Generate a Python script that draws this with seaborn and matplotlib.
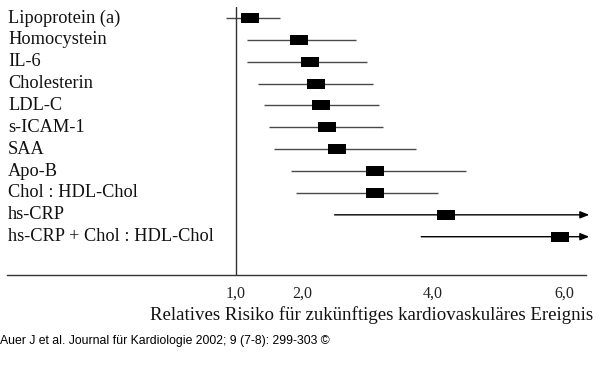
import matplotlib
matplotlib.use("Agg")
import matplotlib.pyplot as plt
import matplotlib.transforms as mtransforms
import seaborn as sns
import pandas as pd

# Marker und Konfidenzintervalle (relatives Risiko), von oben nach unten
MARKERS = [
    "Lipoprotein (a)",
    "Homocystein",
    "IL-6",
    "Cholesterin",
    "LDL-C",
    "s-ICAM-1",
    "SAA",
    "Apo-B",
    "Chol : HDL-Chol",
    "hs-CRP",
    "hs-CRP + Chol : HDL-Chol",
]
RR = [1.21, 1.96, 2.13, 2.21, 2.29, 2.38, 2.54, 3.12, 3.12, 4.20, 5.94]
CI_LOW = [0.84, 1.17, 1.17, 1.34, 1.42, 1.50, 1.58, 1.83, 1.91, 2.50, 3.82]
CI_HIGH = [1.67, 2.83, 2.99, 3.08, 3.17, 3.24, 3.74, 4.50, 4.08, 6.38, 6.38]
OPEN_ENDED = [False] * 9 + [True, True]  # Intervall reicht ueber die Skala hinaus

TICKS = [1.0, 2.0, 4.0, 6.0]
TICK_LABELS = ["1,0", "2,0", "4,0", "6,0"]
XLABEL = "Relatives Risiko für zukünftiges kardiovaskuläres Ereignis"
SOURCE = "Auer J et al. Journal für Kardiologie 2002; 9 (7-8): 299-303 ©"


def main() -> None:
    sns.set_theme(style="white")
    plt.rcParams["font.family"] = ["Liberation Serif", "DejaVu Serif"]

    df = pd.DataFrame(
        {
            "marker": MARKERS,
            "rr": RR,
            "low": CI_LOW,
            "high": CI_HIGH,
            "open": OPEN_ENDED,
        }
    )
    df["row"] = range(len(df))

    fig = plt.figure(figsize=(6, 3.9), dpi=100)
    ax = fig.add_axes([7 / 600, 1 - 275 / 390, 579 / 600, 268 / 390])

    line_color = "#4a4a4a"
    closed = df[~df["open"]]
    ax.hlines(closed["row"], closed["low"], closed["high"], color=line_color, lw=1)
    for row in df[df["open"]].itertuples():
        ax.annotate(
            "",
            xy=(row.high, row.row),
            xytext=(row.low, row.row),
            arrowprops=dict(arrowstyle="-|>,head_length=0.45,head_width=0.18",
                            color="black", lw=1, shrinkA=0, shrinkB=0),
            annotation_clip=False,
        )

    box = [(-1.55, -1), (1.55, -1), (1.55, 1), (-1.55, 1)]
    sns.scatterplot(data=df, x="rr", y="row", marker=box, s=150,
                    color="black", linewidth=0, ax=ax, zorder=3, legend=False)

    ax.axvline(1.0, color="#333333", lw=1)

    trans = mtransforms.blended_transform_factory(fig.transFigure, ax.transData)
    for row in df.itertuples():
        ax.text(8 / 600, row.row, row.marker, transform=trans,
                ha="left", va="center", fontsize=13.2, color="#111111")

    ax.set_xlim(-2.49, 6.33)
    ax.set_ylim(11.75, -0.5)
    ax.set_xticks(TICKS)
    ax.set_xticklabels(TICK_LABELS, fontsize=11.5, color="#222222")
    ax.set_yticks([])
    ax.tick_params(axis="x", length=0, pad=8)
    for side in ["top", "left", "right"]:
        ax.spines[side].set_visible(False)
    ax.spines["bottom"].set_color("#333333")
    ax.spines["bottom"].set_linewidth(1)
    ax.set_xlabel("")
    ax.set_ylabel("")

    fig.text(593 / 600, 1 - 315 / 390, XLABEL, ha="right", va="center",
             fontsize=13.6, color="#111111")
    fig.text(0.0, 1 - 341 / 390, SOURCE, ha="left", va="center",
             fontsize=8.8, color="black", family=["Liberation Sans", "DejaVu Sans"])

    fig.savefig("out.png", dpi=100)
    plt.close(fig)


if __name__ == "__main__":
    main()
